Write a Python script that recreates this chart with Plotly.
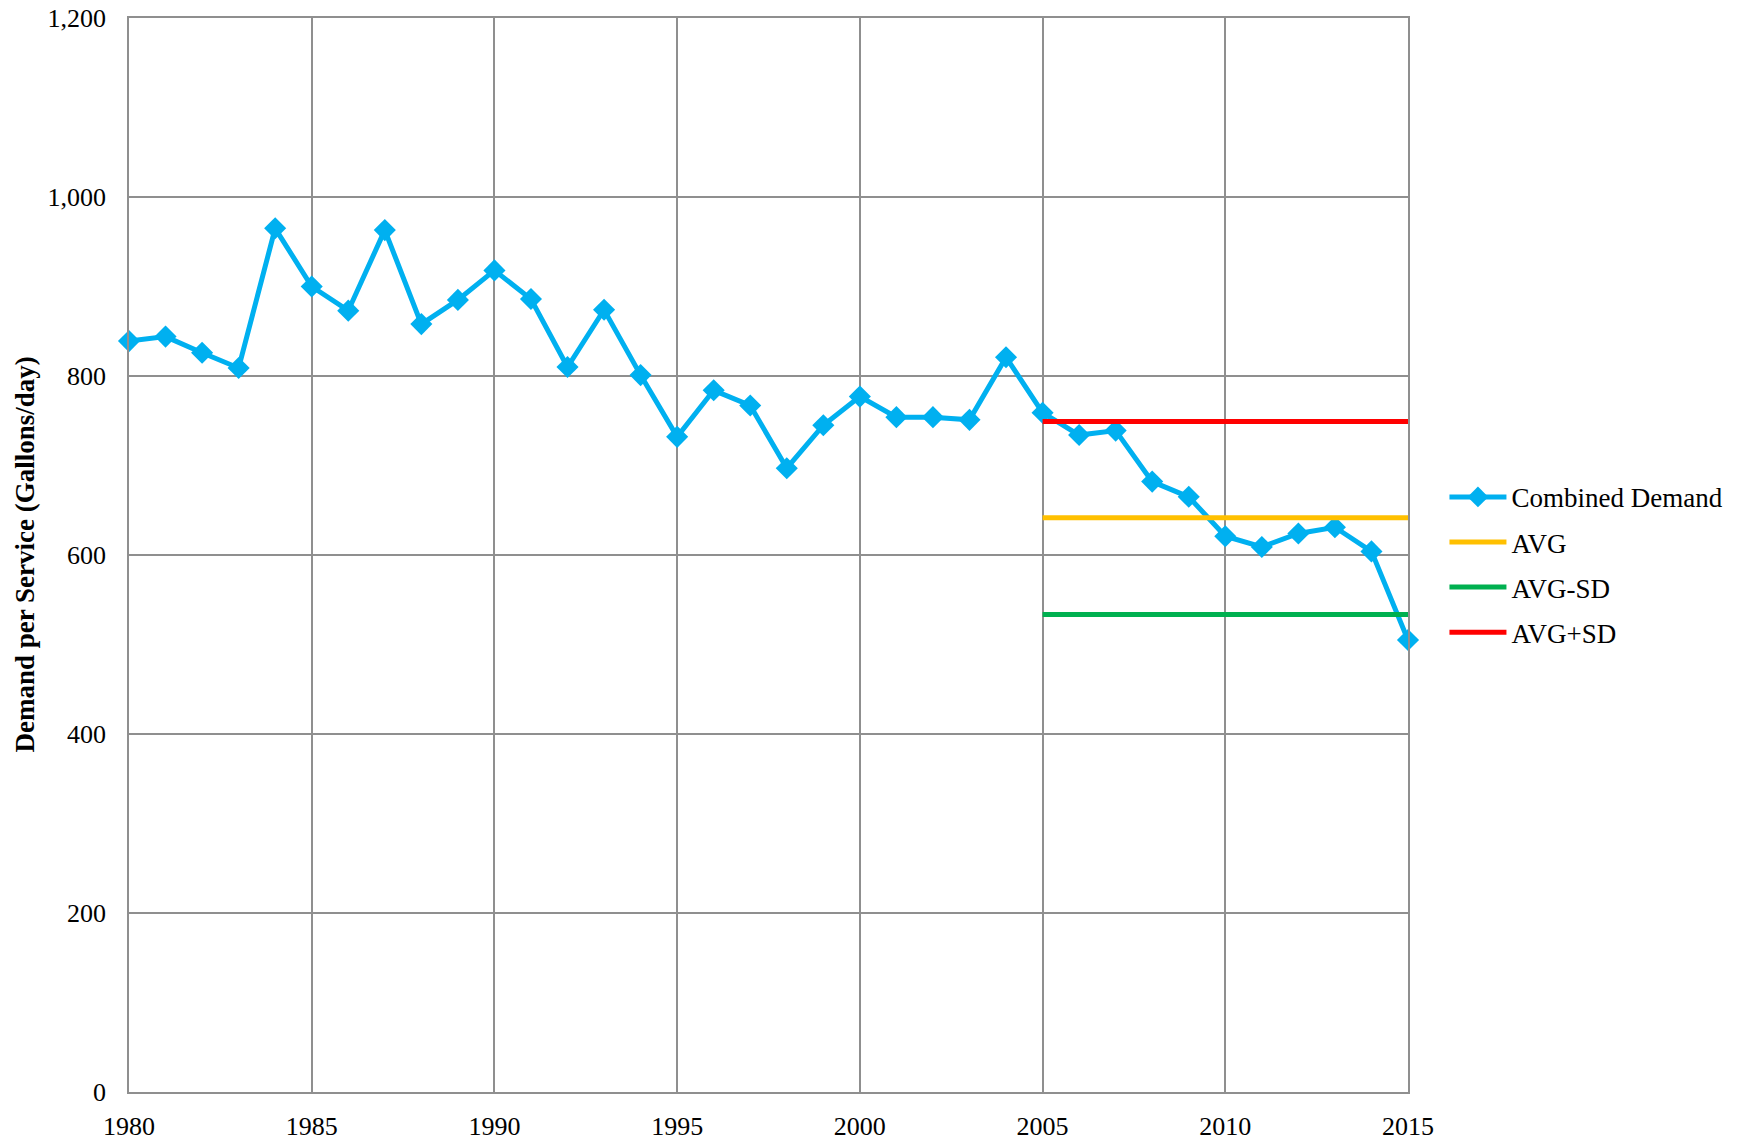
import plotly.graph_objects as go

years = list(range(1980, 2016))
demand = [839, 844, 826, 809, 965, 900, 873, 963, 858, 885, 918, 886, 810, 874, 801,
          732, 784, 767, 697, 745, 777, 754, 754, 751, 821, 759, 734, 739, 682, 665,
          621, 609, 624, 631, 604, 505]

stat_years = [2005, 2015]
avg_val = 641.7
avg_minus_sd = 533.4
avg_plus_sd = 749.3

FONT = "Liberation Serif, Times New Roman, serif"

fig = go.Figure()
fig.add_trace(go.Scatter(x=years, y=demand, name="Combined Demand", mode="lines+markers",
                         line=dict(color="#00B0F0", width=5),
                         marker=dict(symbol="diamond", size=17, color="#00B0F0"),
                         cliponaxis=False, legendgroup="a"))
fig.add_trace(go.Scatter(x=stat_years, y=[avg_val] * 2, name="AVG", mode="lines",
                         line=dict(color="#FFC000", width=5), legendgroup="b"))
fig.add_trace(go.Scatter(x=stat_years, y=[avg_minus_sd] * 2, name="AVG-SD", mode="lines",
                         line=dict(color="#00B050", width=5), legendgroup="c"))
fig.add_trace(go.Scatter(x=stat_years, y=[avg_plus_sd] * 2, name="AVG+SD", mode="lines",
                         line=dict(color="#FF0000", width=5), legendgroup="d"))

axis_common = dict(showgrid=True, gridcolor="#8f8f8f", gridwidth=1.5,
                   showline=True, linecolor="#8f8f8f", linewidth=1.5, mirror=True,
                   zeroline=False, ticks="", automargin=False,
                   tickfont=dict(family=FONT, size=26, color="black"))

fig.update_xaxes(range=[1980, 2015], dtick=5, tick0=1980, ticklabelstandoff=10, **axis_common)
fig.update_yaxes(range=[0, 1200], dtick=200, tickformat=",", ticklabelstandoff=16,
                 **axis_common)

fig.add_annotation(text="<b>Demand per Service (Gallons/day)</b>", textangle=-90,
                   xref="paper", yref="paper", x=-0.0817, y=0.5,
                   xanchor="center", yanchor="middle", showarrow=False,
                   font=dict(family=FONT, size=27, color="black"))

fig.update_layout(width=1743, height=1142, plot_bgcolor="white", paper_bgcolor="white",
                  margin=dict(l=129, r=334.5, t=17.5, b=49.7),
                  legend=dict(x=1.0285, y=0.5765, xanchor="left", yanchor="top",
                              traceorder="grouped", tracegroupgap=7, itemwidth=57,
                              font=dict(family=FONT, size=27, color="black"),
                              bgcolor="rgba(0,0,0,0)"),
                  showlegend=True)

fig.write_html("out.html", config={"displayModeBar": False},
               post_script="document.body.style.margin='0px';document.body.style.overflow='hidden';")
